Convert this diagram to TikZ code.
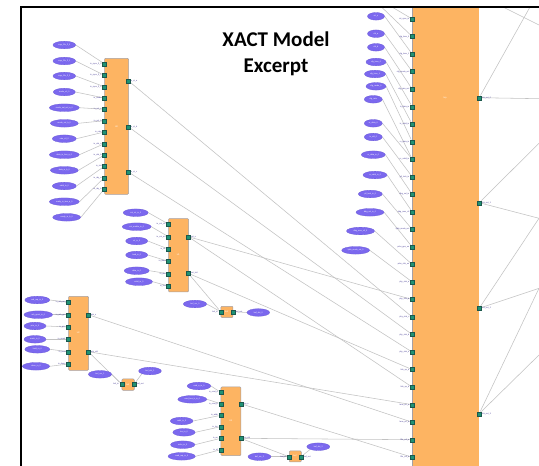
\documentclass[tikz,border=0pt]{standalone}
\usepackage{fontspec}
\setmainfont{Carlito}
\newfontfamily\lblfont{Liberation Sans}
\usetikzlibrary{shapes.geometric}
\pgfdeclarelayer{paper}
\pgfdeclarelayer{edges}
\pgfsetlayers{paper,edges,main}

\definecolor{blockfill}{RGB}{253,180,98}
\definecolor{blockline}{RGB}{165,160,165}
\definecolor{sigfill}{RGB}{123,104,238}
\definecolor{sigline}{RGB}{108,92,215}
\definecolor{portfill}{RGB}{32,146,116}
\definecolor{portline}{RGB}{28,88,76}
\definecolor{wire}{RGB}{194,194,194}
\definecolor{portlbl}{RGB}{72,62,150}

\tikzset{
  blockbox/.style={draw=blockline, fill=blockfill, line width=0.5pt, rounded corners=1pt, inner sep=0pt, anchor=north west},
  sig/.style={ellipse, draw=sigline, line width=0.3pt, fill=sigfill, minimum height=7.6pt, inner sep=0pt,
              font=\lblfont\fontsize{2}{2.2}\selectfont, text=white},
  port/.style={rectangle, draw=portline, fill=portfill, line width=0.3pt, minimum size=4pt, inner sep=0pt},
  plbl/.style={font=\lblfont\fontsize{2}{2.2}\selectfont, text=portlbl, inner sep=0pt},
  blbl/.style={font=\lblfont\fontsize{2.2}{2.4}\selectfont, text=white, inner sep=0pt},
  wireline/.style={draw=wire, line width=0.55pt},
  ttl/.style={font=\bfseries\fontsize{21}{26}\selectfont, anchor=base, inner sep=0pt},
}

\begin{document}
\begin{tikzpicture}[x=1pt,y=-1pt]
\useasboundingbox (0,0) rectangle (539,466);
\clip (0,0) rectangle (539,466);
\begin{pgfonlayer}{paper}
\fill[white] (0,0) rectangle (539,466);
\end{pgfonlayer}

% ---------- title ----------
\node[ttl] (title1) at (276,46.5) {XACT Model};
\node[ttl] (title2) at (276,72.7) {Excerpt};

% ---------- top-level block ----------
\node[blockbox, draw=none, rounded corners=0pt, minimum width=67pt, minimum height=470pt] (top) at (412.2,7) {};
\draw[blockline, line width=0.6pt] (top.north west) -- (top.south west);
\node[blbl] (toplbl) at (445,97.7) {top};

\foreach \i/\t in {0/rst\_sync\_in,1/cfg\_lane\_0,2/cfg\_lane\_1,3/cfg\_mode\_sel,4/cfg\_rate\_sel,
  5/tx\_data\_in,6/tx\_valid\_in,7/rx\_data\_in,8/rx\_valid\_in,9/pll\_lock\_in,10/dbg\_sel\_in,
  11/dbg\_mux\_ctl,12/lpbk\_mode\_sel,13/prbs\_gen\_en,14/prbs\_chk\_en,15/phy\_stat\_a,16/phy\_stat\_b,
  17/phy\_stat\_c,18/phy\_stat\_d,19/phy\_stat\_e,20/link\_up\_a,21/link\_up\_b,22/lane\_err\_a,
  23/lane\_err\_b,24/fifo\_ovf\_a,25/fifo\_ovf\_b}{
  \node[port] (P\i) at (412.2,{19+17.53*\i}) {};
  \node[plbl, anchor=east] (PL\i) at (409.5,{19+17.53*\i}) {\t};
}
\foreach \i/\y/\t in {1/97.7/lnk\_out\_0,2/202.7/lnk\_out\_1,3/308.3/lnk\_out\_2,4/413.7/lnk\_out\_3}{
  \node[port] (R\i) at (479.2,\y) {};
  \node[plbl, anchor=west] (RL\i) at (482,\y) {\t};
}

% signals feeding the top-level block
\foreach \k/\x/\y/\w/\t in {0/376/16.3/17/rst\_n,1/376/33.7/17/clk\_a,2/376/47.3/17/clk\_b,
  3/376/62/20/cfg\_lane\_0,4/375/74/21/cfg\_lane\_1,5/376/86.3/20/cfg\_mode\_0,6/373.3/99.3/18/cfg\_rate,
  7/373.3/123.3/18/tx\_data\_0,8/373.3/137/18/tx\_vld\_0,9/373.3/154.7/24/rx\_data\_in\_0,
  10/375/175/24/rx\_valid\_in\_0,11/370.3/194/24/pll\_lock\_in\_0,12/370/212.3/28/dbg\_sel\_in\_0,
  13/360.5/231/28/dbg\_mux\_ctl\_0,14/355.7/250.3/28/lpbk\_mode\_sel\_0}{
  \node[sig, minimum width=\w pt] (eT\k) at (\x,\y) {\t};
}

% ---------- block U0 ----------
\node[blockbox, minimum width=24pt, minimum height=136pt] (A) at (104.3,58) {};
\node[blbl] (Albl) at (116.5,126.7) {U0};
\foreach \i/\y/\t in {0/63.7/in\_sync\_fl\_0,1/75.3/in\_sync\_fl\_1,2/86.7/in\_sync\_fl\_2,3/98/in\_mode,
  4/109.3/in\_sel\_a,5/120.7/in\_sel\_b,6/132/in\_rate,7/143.7/in\_dat\_a,8/155/in\_dat\_b,
  9/166.3/in\_vld,10/177.7/in\_rdy\_a,11/189/in\_rdy\_b}{
  \node[port] (Ai\i) at (104.3,\y) {};
  \node[plbl, anchor=east] (AiL\i) at (101.6,\y) {\t};
}
\foreach \i/\y/\t in {1/80.7/o\_st\_a,2/126.7/o\_st\_b,3/172/o\_st\_c}{
  \node[port] (Ao\i) at (128.3,\y) {};
  \node[plbl, anchor=west] (AoL\i) at (131,\y) {\t};
}
\foreach \k/\x/\y/\w/\t in {0/64.3/45/22.7/sngr\_fifo\_fl\_0,1/64.3/61/22.7/sngr\_fifo\_fl\_1,
  2/64.3/76/22.7/sngr\_fifo\_fl\_2,3/64.3/92/22/mode\_ctl\_0,4/64.3/107.7/30/mode\_sel\_sel\_a\_0,
  5/64.3/123.3/28/mode\_sel\_b\_0,6/64.3/138.7/24/rate\_ctl\_0,7/64.3/154.7/30/data\_in\_bus\_a\_0,
  8/64.3/170.3/28/data\_in\_b\_0,9/64.3/186/24/valid\_in\_0,10/64.3/201.7/30/ready\_in\_bus\_a\_0,
  11/66.7/217.3/28/ready\_in\_b\_0}{
  \node[sig, minimum width=\w pt] (eA\k) at (\x,\y) {\t};
}

% ---------- block U1 ----------
\node[blockbox, minimum width=20pt, minimum height=73.4pt] (B) at (168.3,218.3) {};
\node[blbl] (Blbl) at (178.3,255) {U1};
\foreach \i/\y/\t in {0/224/in\_cnt\_rst,1/236.7/in\_cnt\_en,2/249/in\_clr,3/261.3/in\_load,
  4/273.7/in\_dat,5/286/in\_vld}{
  \node[port] (Bi\i) at (168.3,\y) {};
  \node[plbl, anchor=east] (BiL\i) at (165.6,\y) {\t};
}
\foreach \i/\y/\t in {1/236.7/cnt\_o,2/273.3/cnt\_vld}{
  \node[port] (Bo\i) at (188.3,\y) {};
  \node[plbl, anchor=west] (BoL\i) at (191,\y) {\t};
}
\foreach \k/\x/\y/\w/\t in {0/135.7/212.7/25/cnt\_rst\_in\_0,1/136.7/226.7/29/cnt\_enable\_in\_0,
  2/136.7/241/22/clr\_in\_0,3/136.7/255/22/load\_in\_0,4/136.7/270.7/25/data\_in\_0,
  5/139/281.7/27/valid\_in\_0}{
  \node[sig, minimum width=\w pt] (eB\k) at (\x,\y) {\t};
}

% ---------- block U2 ----------
\node[blockbox, minimum width=20pt, minimum height=74pt] (C) at (68.3,296) {};
\node[blbl] (Clbl) at (78.3,332.7) {U2};
\foreach \i/\y/\t in {0/302.3/in\_arb\_req,1/314.7/in\_arb\_gnt,2/327/in\_prio,3/339.3/in\_mask,
  4/351.7/in\_hold,5/364/in\_done}{
  \node[port] (Ci\i) at (68.3,\y) {};
  \node[plbl, anchor=east] (CiL\i) at (65.6,\y) {\t};
}
\foreach \i/\y/\t in {1/314.7/arb\_o,2/351.7/arb\_vld}{
  \node[port] (Co\i) at (88.3,\y) {};
  \node[plbl, anchor=west] (CoL\i) at (91,\y) {\t};
}
\foreach \k/\x/\y/\w/\t in {0/37.3/300/25/arb\_req\_in\_0,1/38.3/314.7/28.7/arb\_grant\_in\_0,
  2/35/326/22/prio\_in\_0,3/35/339.3/22/mask\_in\_0,4/37.3/349.3/25/hold\_in\_0,
  5/36/366.3/27.3/done\_in\_0}{
  \node[sig, minimum width=\w pt] (eC\k) at (\x,\y) {\t};
}

% ---------- block U3 ----------
\node[blockbox, minimum width=20pt, minimum height=68.6pt] (D) at (220.7,386.7) {};
\node[blbl] (Dlbl) at (230.7,421) {U3};
\foreach \i/\y/\t in {0/392.3/in\_cmd\_a,1/403.7/in\_cmd\_b,2/415.3/in\_addr,3/426.7/in\_len,
  4/438.3/in\_wr,5/449.7/in\_rd}{
  \node[port] (Di\i) at (220.7,\y) {};
  \node[plbl, anchor=east] (DiL\i) at (218,\y) {\t};
}
\foreach \i/\y/\t in {1/403.7/rsp\_o,2/438.3/rsp\_vld}{
  \node[port] (Do\i) at (240.7,\y) {};
  \node[plbl, anchor=west] (DoL\i) at (243.4,\y) {\t};
}
\foreach \k/\x/\y/\w/\t in {0/199/386/23.7/cmd\_a\_in\_0,1/192.3/399.3/29/cmd\_bus\_b\_in\_0,
  2/181.7/421/22.7/addr\_in\_0,3/184/432.3/22.3/len\_in\_0,4/182.7/444.7/24.3/write\_in\_0,
  5/181.7/456.3/27.3/read\_req\_in\_0}{
  \node[sig, minimum width=\w pt] (eD\k) at (\x,\y) {\t};
}

% ---------- small buffers ----------
\node[blockbox, minimum width=12pt, minimum height=11.3pt] (E) at (220.7,306) {};
\node[blbl] (Elbl) at (226.7,311.7) {buf};
\node[port] (Ei) at (220.7,311.7) {};
\node[port] (Eo) at (232.7,311.7) {};
\node[plbl, anchor=east] (EiL) at (218,311.7) {buf\_in};
\node[plbl, anchor=west] (EoL) at (235.4,311.7) {buf\_out};
\node[sig, minimum width=23.3pt] (eE1) at (195,304) {buf\_src\_0};
\node[sig, minimum width=22.7pt] (eE2) at (258.3,312.5) {buf\_dst\_0};

\node[blockbox, minimum width=12.3pt, minimum height=11.3pt] (F) at (121.7,378.7) {};
\node[blbl] (Flbl) at (127.8,384.3) {buf};
\node[port] (Fi) at (121.7,384.3) {};
\node[port] (Fo) at (134,384.3) {};
\node[plbl, anchor=east] (FiL) at (119,384.3) {buf\_in};
\node[plbl, anchor=west] (FoL) at (136.7,384.3) {buf\_out};
\node[sig, minimum width=23.3pt] (eF1) at (100,374.3) {buf\_src\_1};
\node[sig, minimum width=22.7pt] (eF2) at (150,371) {buf\_dst\_1};

\node[blockbox, minimum width=12pt, minimum height=11pt] (G) at (289,450.7) {};
\node[blbl] (Glbl) at (295,456.2) {buf};
\node[port] (Gi) at (289,456.7) {};
\node[port] (Go) at (301,456.7) {};
\node[plbl, anchor=east] (GiL) at (286.3,456.7) {buf\_in};
\node[plbl, anchor=west] (GoL) at (303.7,456.7) {buf\_out};
\node[sig, minimum width=23pt] (eG1) at (259.5,456.7) {buf\_src\_2};
\node[sig, minimum width=23pt] (eG2) at (318.3,446.7) {buf\_dst\_2};

% ---------- free ends beyond the view ----------
\coordinate (tin0) at (392,7);
\coordinate (tin1) at (381.5,7);
\coordinate (xr0) at (530,7);
\coordinate (xr1) at (539,98.7);
\coordinate (xr2) at (539,143.3);
\coordinate (xr3) at (539,218.3);
\coordinate (xr4) at (539,288.3);
\coordinate (xr5) at (539,355);
\coordinate (xs0) at (503,7);
\coordinate (xs1) at (539,25);

% ---------- wires ----------
\begin{pgfonlayer}{edges}
\foreach \k [evaluate=\k as \j using int(\k+2)] in {0,...,6}
  \draw[wireline] (eT\k.east) -- (P\j);
\foreach \k [evaluate=\k as \j using int(\k+1)] in {7,...,14}
  \draw[wireline] (eT\k.east) -- (P\j);
\foreach \k in {0,...,11} \draw[wireline] (eA\k.east) -- (Ai\k);
\foreach \k in {0,...,5} {
  \draw[wireline] (eB\k.east) -- (Bi\k);
  \draw[wireline] (eC\k.east) -- (Ci\k);
  \draw[wireline] (eD\k.east) -- (Di\k);
}
\draw[wireline] (eE1.east) -- (Ei);
\draw[wireline] (Bo2) -- (Ei);
\draw[wireline] (Eo) -- (eE2.west);
\draw[wireline] (eF1.east) -- (Fi);
\draw[wireline] (Co2) -- (Fi);
\draw[wireline] (Fo) -- (eF2.south west);
\draw[wireline] (eG1.east) -- (Gi);
\draw[wireline] (Do2) -- (Gi);
\draw[wireline] (Go) -- (eG2.south west);

\draw[wireline] (Ao1) -- (P17);
\draw[wireline] (Ao2) -- (P18);
\draw[wireline] (Ao3) -- (P19);
\draw[wireline] (Bo1) -- (P16);
\draw[wireline] (Bo1) -- (P21);
\draw[wireline] (Bo2) -- (P20);
\draw[wireline] (Co2) -- (P22);
\draw[wireline] (Co1) -- (P23);
\draw[wireline] (Do2) -- (P24);
\draw[wireline] (Do1) -- (P25);

\draw[wireline] (tin0) -- (P0);
\draw[wireline] (tin1) -- (P1);
\draw[wireline] (R1) -- (xr0);
\draw[wireline] (R1) -- (xr1);
\draw[wireline] (xs0) -- (xs1);
\draw[wireline] (R2) -- (xr2);
\draw[wireline] (R2) -- (xr3);
\draw[wireline] (R3) -- (xr3);
\draw[wireline] (R3) -- (xr4);
\draw[wireline] (R4) -- (xr4);
\draw[wireline] (R4) -- (xr5);
\end{pgfonlayer}

% ---------- frame ----------
\draw[black, line width=2pt] (20.8,470) -- (20.8,6.5) -- (545,6.5);
\end{tikzpicture}
\end{document}
